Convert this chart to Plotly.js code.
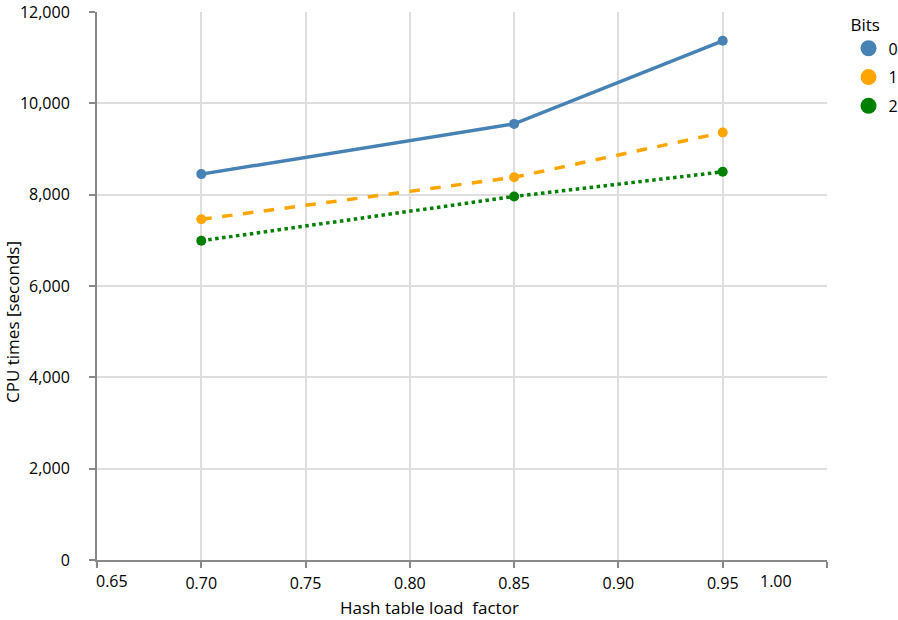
<!DOCTYPE html>
<html>
<head>
<meta charset="utf-8">
<script src="https://cdn.plot.ly/plotly-3.0.1.min.js"></script>
<style>html,body{margin:0;padding:0;background:#fff;}#chart{width:898px;height:620px;}</style>
</head>
<body>
<div id="chart"></div>
<script>
var loadFactors = [0.70, 0.85, 0.95];
var bits0 = [8450, 9550, 11370];
var bits1 = [7460, 8380, 9360];
var bits2 = [6990, 7960, 8500];
var seriesNames = ['0', '1', '2'];
var xTickVals = [0.65, 0.70, 0.75, 0.80, 0.85, 0.90, 0.95, 1.00];
var xTickText = ['0.65', '0.70', '0.75', '0.80', '0.85', '0.90', '0.95', '1.00'];
var xTitle = 'Hash table load  factor';
var yTitle = 'CPU times [seconds]';

var FONT = 'Open Sans, sans-serif';
var colors = ['#4682b4', '#ffa500', '#008000'];
var dashes = ['solid', 'dash', 'dot'];
var allSeries = [bits0, bits1, bits2];

var traces = [];
allSeries.forEach(function (s, i) {
  traces.push({
    x: loadFactors, y: s, mode: 'lines+markers', name: seriesNames[i],
    line: {color: colors[i], width: 3.5, dash: dashes[i]},
    marker: {color: colors[i], size: 10},
    showlegend: false, hoverinfo: 'x+y'
  });
});
allSeries.forEach(function (s, i) {
  traces.push({
    x: [null], y: [null], mode: 'markers', name: seriesNames[i],
    legendgroup: 'g' + i,
    marker: {color: colors[i], size: 20}, showlegend: true
  });
});

var shownText = xTickText.map(function (t, i) { return (i === 0 || i === xTickText.length - 1) ? '' : t; });

var layout = {
  width: 898, height: 620,
  margin: {l: 97, r: 71, t: 12, b: 60, autoexpand: false},
  paper_bgcolor: '#fff', plot_bgcolor: '#fff',
  font: {family: FONT, size: 16, color: '#000'},
  xaxis: {
    range: [0.65, 1.00], tickvals: xTickVals, ticktext: shownText,
    showgrid: true, gridcolor: '#dedede', gridwidth: 2,
    showline: true, linecolor: '#888', linewidth: 2,
    ticks: 'outside', ticklen: 6, tickcolor: '#888', tickwidth: 2,
    ticklabelstandoff: 2,
    zeroline: false, tickfont: {family: FONT, size: 16}
  },
  yaxis: {
    range: [0, 12000], dtick: 2000, tickformat: ',d',
    showgrid: true, gridcolor: '#dedede', gridwidth: 2,
    showline: true, linecolor: '#888', linewidth: 2,
    ticks: 'outside', ticklen: 6, tickcolor: '#888', tickwidth: 2,
    ticklabelstandoff: 16,
    zeroline: false, tickfont: {family: FONT, size: 16}
  },
  legend: {
    x: 1.0295, y: 1.005, xanchor: 'left', yanchor: 'top',
    title: {text: 'Bits', font: {family: FONT, size: 17}},
    font: {family: FONT, size: 16}, itemsizing: 'trace',
    tracegroupgap: 5, bgcolor: 'rgba(0,0,0,0)'
  },
  annotations: [
    {x: xTickVals[0], y: 0, xref: 'x', yref: 'paper', text: xTickText[0], showarrow: false,
     xanchor: 'left', yanchor: 'top', yshift: -8, xshift: -3, font: {family: FONT, size: 16}},
    {x: 0.9756, y: 0, xref: 'x', yref: 'paper', text: xTickText[xTickText.length - 1], showarrow: false,
     xanchor: 'center', yanchor: 'top', yshift: -8, font: {family: FONT, size: 16}},
    {x: 0.4548, y: 0, xref: 'paper', yref: 'paper', text: xTitle, showarrow: false,
     xanchor: 'center', yanchor: 'middle', yshift: -47, font: {family: FONT, size: 17}},
    {x: 0, y: 0.4343, xref: 'paper', yref: 'paper', text: yTitle, showarrow: false, textangle: -90,
     xanchor: 'center', yanchor: 'middle', xshift: -85, font: {family: FONT, size: 17}}
  ]
};

Plotly.newPlot('chart', traces, layout, {displayModeBar: false, staticPlot: true});
</script>
</body>
</html>
